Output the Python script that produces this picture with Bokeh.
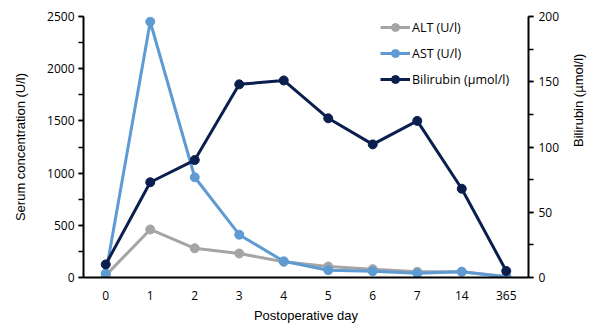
import math
from bokeh.plotting import figure
from bokeh.models import FactorRange, Range1d, LinearAxis, Legend, LegendItem
from bokeh.embed import file_html
from bokeh.resources import INLINE

days = ["0", "1", "2", "3", "4", "5", "6", "7", "14", "365"]
alt = [20, 460, 280, 230, 150, 105, 80, 55, 55, 10]
ast = [38, 2450, 960, 410, 155, 70, 60, 40, 55, 5]
bilirubin = [10, 73, 90, 148, 151, 122, 102, 120, 68, 5]

GRAY = "#A5A5A5"
BLUE = "#5F9BD3"
NAVY = "#0B1F4E"

p = figure(frame_width=445, frame_height=261, x_range=FactorRange(*days, range_padding=0),
           y_range=Range1d(0, 2500), output_backend="svg", toolbar_location=None,
           min_border_left=83, min_border_right=8, min_border_top=16, min_border_bottom=2)
p.extra_y_ranges = {"bili": Range1d(0, 200)}
p.outline_line_color = None
p.xgrid.visible = False
p.ygrid.visible = False

l1 = p.line(days, alt, line_color=GRAY, line_width=3)
s1 = p.scatter(days, alt, size=9, fill_color=GRAY, line_color=GRAY)
l2 = p.line(days, ast, line_color=BLUE, line_width=3)
s2 = p.scatter(days, ast, size=9, fill_color=BLUE, line_color=BLUE)
l3 = p.line(days, bilirubin, line_color=NAVY, line_width=3, y_range_name="bili")
s3 = p.scatter(days, bilirubin, size=9, fill_color=NAVY, line_color=NAVY, y_range_name="bili")

tick_font = "Open Sans"
label_font = "Liberation Sans"

xa = p.xaxis[0]
xa.axis_label = "Postoperative day"
xa.axis_line_width = 2
xa.axis_line_color = "black"
xa.major_tick_line_color = None
xa.minor_tick_line_color = None
xa.major_tick_out = 0
xa.major_tick_in = 0
xa.major_label_text_font = tick_font
xa.major_label_text_font_size = "12px"
xa.major_label_text_color = "black"
xa.major_label_standoff = 13
xa.axis_label_text_font = label_font
xa.axis_label_text_font_style = "normal"
xa.axis_label_text_font_size = "13px"
xa.axis_label_text_color = "black"
xa.axis_label_standoff = 5

ya = p.yaxis[0]
ya.axis_label = "Serum concentration (U/l)"
ya.ticker.desired_num_ticks = 6
ya.ticker.num_minor_ticks = 2
ya.axis_line_width = 2
ya.axis_line_color = "black"
ya.major_tick_out = 5
ya.major_tick_in = 0
ya.minor_tick_out = 5
ya.minor_tick_in = 0
ya.major_tick_line_width = 1.5
ya.minor_tick_line_width = 1.5
ya.major_label_text_font = tick_font
ya.major_label_text_font_size = "12px"
ya.major_label_text_color = "black"
ya.major_label_standoff = 4
ya.axis_label_text_font = label_font
ya.axis_label_text_font_style = "normal"
ya.axis_label_text_font_size = "13px"
ya.axis_label_text_color = "black"
ya.axis_label_standoff = 16

ra = LinearAxis(y_range_name="bili", axis_label="Bilirubin (µmol/l)")
ra.ticker.desired_num_ticks = 5
ra.ticker.num_minor_ticks = 2
ra.axis_line_width = 2
ra.axis_line_color = "black"
ra.major_tick_out = 5
ra.major_tick_in = 0
ra.minor_tick_out = 5
ra.minor_tick_in = 0
ra.major_tick_line_width = 1.5
ra.minor_tick_line_width = 1.5
ra.major_label_text_font = tick_font
ra.major_label_text_font_size = "12px"
ra.major_label_text_color = "black"
ra.major_label_standoff = 5
ra.axis_label_text_font = label_font
ra.axis_label_text_font_style = "normal"
ra.axis_label_text_font_size = "13px"
ra.axis_label_text_color = "black"
ra.axis_label_standoff = 16
ra.axis_label_orientation = math.pi / 2
p.add_layout(ra, "right")

legend = Legend(items=[
    LegendItem(label="ALT (U/l)", renderers=[l1, s1]),
    LegendItem(label="AST (U/l)", renderers=[l2, s2]),
    LegendItem(label="Bilirubin (µmol/l)", renderers=[l3, s3]),
], location=(297, 188))
legend.background_fill_alpha = 0
legend.border_line_color = None
legend.label_text_font = tick_font
legend.label_text_font_size = "12.5px"
legend.label_text_color = "black"
legend.glyph_width = 30
legend.glyph_height = 20
legend.spacing = 6
legend.margin = 0
legend.padding = 0
legend.label_standoff = 2
p.add_layout(legend, "center")

open("out.html", "w").write(file_html(p, INLINE))
